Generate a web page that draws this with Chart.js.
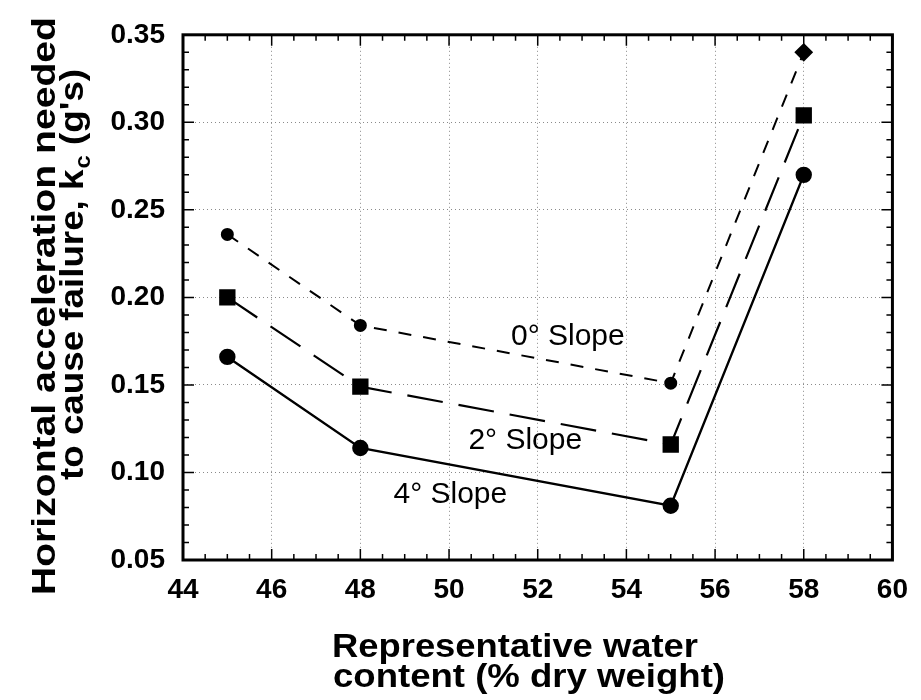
<!DOCTYPE html>
<html><head><meta charset="utf-8">
<script src="https://cdn.jsdelivr.net/npm/chart.js@4"></script>
<style>html,body{margin:0;padding:0;background:#fff}#wrap{width:921px;height:700px}</style>
</head><body><div id="wrap"><canvas id="c" width="921" height="700"></canvas></div>
<script>
// ---- data ----
const waterContent = [45, 48, 55, 58];
const slope0 = [0.236, 0.184, 0.151, 0.340];
const slope2 = [0.200, 0.149, 0.116, 0.304];
const slope4 = [0.166, 0.114, 0.081, 0.270];
const xTicks = [44, 46, 48, 50, 52, 54, 56, 58, 60];
const yTicks = [0.05, 0.10, 0.15, 0.20, 0.25, 0.30, 0.35];
const seriesLabels = ['0° Slope', '2° Slope', '4° Slope'];
const labelAnchorX = [52.68, 51.72, 50.03];
const labelAnchorY = [0.1726, 0.1133, 0.0828];
const xTitleLines = ['Representative water', 'content (% dry weight)'];
const yTitleLine1 = 'Horizontal acceleration needed';
const yTitleLine2 = ['to cause failure, k', 'c', ' (g\'s)'];

const FAM = '"Liberation Sans", Arial, Helvetica, sans-serif';
Chart.defaults.font.family = FAM;
Chart.defaults.color = '#000';

function pts(ys){ return waterContent.map((x, i) => ({x: x, y: ys[i]})); }

function stretchText(ctx, text, x, y, targetW){
  const w = ctx.measureText(text).width;
  ctx.save(); ctx.translate(x, y); ctx.scale(targetW / w, 1);
  ctx.textAlign = 'left'; ctx.fillText(text, 0, 0); ctx.restore();
}

const decor = {
  id: 'decor',
  afterDraw(chart){
    const ctx = chart.ctx, a = chart.chartArea;
    const xs = chart.scales.x, ys = chart.scales.y;
    ctx.save();
    ctx.strokeStyle = '#000';
    // inward ticks on all four sides
    ctx.lineWidth = 1.5;
    for (let v = 44; v <= 60.001; v += 0.5){
      const px = xs.getPixelForValue(v);
      const major = Math.abs(v / 2 - Math.round(v / 2)) < 1e-6;
      const L = major ? 11 : 6;
      ctx.beginPath();
      ctx.moveTo(px, a.bottom); ctx.lineTo(px, a.bottom - L);
      ctx.moveTo(px, a.top); ctx.lineTo(px, a.top + L);
      ctx.stroke();
    }
    for (let k = 5; k <= 35; k++){
      const py = ys.getPixelForValue(k / 100);
      const L = (k % 5 === 0) ? 11 : 6;
      ctx.beginPath();
      ctx.moveTo(a.left, py); ctx.lineTo(a.left + L, py);
      ctx.moveTo(a.right, py); ctx.lineTo(a.right - L, py);
      ctx.stroke();
    }
    // frame
    ctx.lineWidth = 3;
    ctx.strokeRect(a.left, a.top, a.right - a.left, a.bottom - a.top);

    // series annotations
    ctx.fillStyle = '#000';
    ctx.font = '30px ' + FAM;
    ctx.textAlign = 'center'; ctx.textBaseline = 'alphabetic';
    for (let i = 0; i < seriesLabels.length; i++){
      ctx.fillText(seriesLabels[i], xs.getPixelForValue(labelAnchorX[i]), ys.getPixelForValue(labelAnchorY[i]));
    }

    // x axis title (two lines, left aligned)
    ctx.font = 'bold 34px ' + FAM;
    stretchText(ctx, xTitleLines[0], 332, 657, 366);
    stretchText(ctx, xTitleLines[1], 333, 687, 392);

    // y axis title (rotated)
    ctx.save();
    ctx.translate(55, 595); ctx.rotate(-Math.PI / 2);
    ctx.font = 'bold 34px ' + FAM;
    stretchText(ctx, yTitleLine1, 0, 0, 578);
    ctx.restore();

    ctx.save();
    ctx.translate(83, 480); ctx.rotate(-Math.PI / 2);
    ctx.font = 'bold 34px ' + FAM;
    const w1 = ctx.measureText(yTitleLine2[0]).width;
    const w3 = ctx.measureText(yTitleLine2[2]).width;
    ctx.font = 'bold 22px ' + FAM;
    const w2 = ctx.measureText(yTitleLine2[1]).width;
    const f = 410 / (w1 + w2 + w3);
    ctx.scale(f, 1);
    ctx.textAlign = 'left';
    ctx.font = 'bold 34px ' + FAM;
    ctx.fillText(yTitleLine2[0], 0, 0);
    ctx.font = 'bold 22px ' + FAM;
    ctx.fillText(yTitleLine2[1], w1 + 1, 7);
    ctx.font = 'bold 34px ' + FAM;
    ctx.fillText(yTitleLine2[2], w1 + w2 + 1, 0);
    ctx.restore();

    ctx.restore();
  }
};

const common = {showLine: true, borderColor: '#000', backgroundColor: '#000', pointBorderColor: '#000', pointBackgroundColor: '#000', fill: false, tension: 0};

new Chart(document.getElementById('c'), {
  type: 'scatter',
  data: {
    datasets: [
      Object.assign({}, common, {label: seriesLabels[0], data: pts(slope0), borderWidth: 2, borderDash: [13, 12],
        pointStyle: ['circle', 'circle', 'circle', 'rectRot'], pointRadius: [5.5, 5.5, 5.5, 8]}),
      Object.assign({}, common, {label: seriesLabels[1], data: pts(slope2), borderWidth: 2.2, borderDash: [36, 16],
        pointStyle: 'rect', pointRadius: 10}),
      Object.assign({}, common, {label: seriesLabels[2], data: pts(slope4), borderWidth: 2.4,
        pointStyle: 'circle', pointRadius: 7})
    ]
  },
  options: {
    responsive: false, animation: false, devicePixelRatio: 1,
    layout: {padding: {top: 29, right: 21, left: 0, bottom: 0}},
    plugins: {legend: {display: false}, tooltip: {enabled: false}},
    scales: {
      x: {
        type: 'linear', min: 44, max: 60,
        afterBuildTicks: s => { s.ticks = xTicks.map(v => ({value: v})); },
        afterFit: s => { s.height = 140; },
        ticks: {font: {size: 28, weight: 'bold'}, color: '#000', padding: 13, maxRotation: 0, callback: v => String(v)},
        grid: {color: '#8a8a8a', lineWidth: 1, drawTicks: false},
        border: {display: false, dash: [1, 3]}
      },
      y: {
        type: 'linear', min: 0.05, max: 0.35,
        afterBuildTicks: s => { s.ticks = yTicks.map(v => ({value: v})); },
        afterFit: s => { s.width = 183; },
        ticks: {font: {size: 28, weight: 'bold'}, color: '#000', padding: 18, callback: v => Number(v).toFixed(2)},
        grid: {color: '#8a8a8a', lineWidth: 1, drawTicks: false},
        border: {display: false, dash: [1, 3]}
      }
    }
  },
  plugins: [decor]
});
</script></body></html>
